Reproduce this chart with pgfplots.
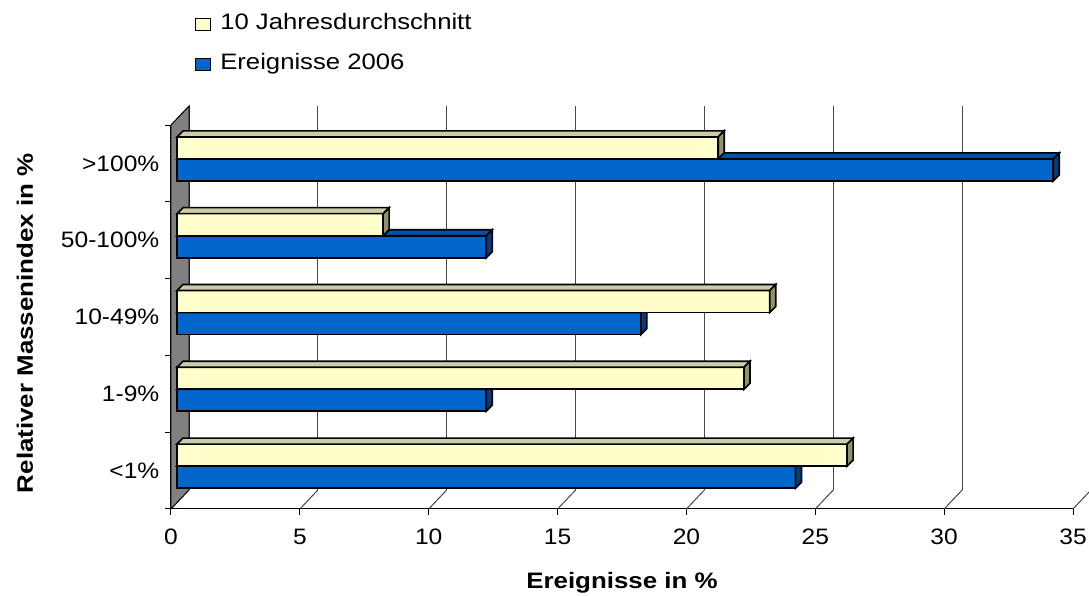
\documentclass[border=0pt]{standalone}
\usepackage{pgfplots}
\pgfplotsset{compat=1.18}
\usepackage{pgfplotstable}
\usepackage{fontspec}
\setmainfont{Liberation Sans}[FakeStretch=1.1, BoldFeatures={FakeStretch=1.16}]
\newfontfamily\legfont{Liberation Sans}[FakeStretch=1.15]

\definecolor{creamfront}{RGB}{255,255,204}
\definecolor{creamtop}{RGB}{204,204,168}
\definecolor{creamside}{RGB}{145,145,112}
\definecolor{bluefront}{RGB}{0,102,204}
\definecolor{bluetop}{RGB}{0,82,164}
\definecolor{blueside}{RGB}{0,62,124}
\definecolor{wallgray}{RGB}{128,128,128}
\definecolor{gridgray}{RGB}{70,70,70}

% Share of events per class of the relative mass index (in %)
\pgfplotstableread{
c  avg  y2006
0  26   24
1  22   12
2  23   18
3  8    12
4  21   34
}\datatable

% One x unit of the plot box is 676.5pt/35; a bar is 16.5pt high and
% 4.5pt deep.  The marks below sit at the right end of a bar's front face.
\pgfdeclareplotmark{bartop}{%
  \pgfmathsetlengthmacro\barlen{\barval*19.328571pt}%
  \pgfpathmoveto{\pgfpoint{-\barlen}{8.25pt}}%
  \pgfpathlineto{\pgfpoint{0pt}{8.25pt}}%
  \pgfpathlineto{\pgfpoint{4.5pt}{12.75pt}}%
  \pgfpathlineto{\pgfpoint{-\barlen+4.5pt}{12.75pt}}%
  \pgfpathclose
  \pgfusepathqfillstroke
}
\pgfdeclareplotmark{barside}{%
  \pgfpathmoveto{\pgfpoint{0pt}{-8.25pt}}%
  \pgfpathlineto{\pgfpoint{0pt}{8.25pt}}%
  \pgfpathlineto{\pgfpoint{4.5pt}{12.75pt}}%
  \pgfpathlineto{\pgfpoint{4.5pt}{-3.75pt}}%
  \pgfpathclose
  \pgfusepathqfillstroke
}

\pgfplotsset{
  boxaxis/.style={
    scale only axis, width=676.5pt, height=288pt,
    xmin=0, xmax=35, ymin=-0.5, ymax=4.5, anchor=south west,
  },
  legsq/.style={
    legend image code/.code={%
      \draw[##1, line width=0.75pt] (0pt,-1pt) rectangle (11.25pt,8.5pt);}
  },
  barstyle/.style={xbar, legsq, bar width=16.5pt, draw=black, line width=1.2pt},
}

\begin{document}
\fontsize{16.75pt}{20pt}\selectfont
\begin{tikzpicture}
\path[use as bounding box] (0,0) rectangle (816.75pt,447pt);
\clip (0,0) rectangle (816.75pt,447pt);

% back plane: vertical grid lines
\begin{axis}[boxaxis, at={(141.75pt,79.5pt)},
  axis line style={draw=none}, xtick={0,5,...,35}, ytick=\empty,
  xticklabels={}, major tick length=0pt, xmajorgrids,
  grid style={gridgray, line width=0.75pt}]
\end{axis}

% front plane: floor line, side wall, ticks and labels
\begin{axis}[boxaxis, at={(128.25pt,65.25pt)}, clip=false,
  axis lines*=left, axis line style={line width=0.75pt},
  tick align=outside, major tick length=4.5pt,
  tick style={black, line width=0.75pt},
  xtick={0,5,...,35},
  xticklabel style={yshift=-4.5pt, /pgf/number format/assume math mode=true},
  ytick={-0.5,0.5,...,4.5}, yticklabels={},
  extra y ticks={0,1,2,3,4},
  extra y tick labels={{<1\%},{1-9\%},{10-49\%},{50-100\%},{>100\%}},
  extra y tick style={major tick length=0pt, yticklabel style={xshift=-3pt}},
  xlabel={\textbf{Ereignisse in \%}},
  ylabel={\textbf{Relativer Massenindex in \%}},
  every axis x label/.style={at={(axis description cs:0.5,-0.208)}, anchor=base},
  every axis y label/.style={at={(axis description cs:-0.153,0.484)}, anchor=base, rotate=90},
]
\draw[fill=wallgray, line width=0.75pt] (axis cs:0,-0.5) -- (axis cs:0,4.5)
  -- ([shift={(13.5pt,14.25pt)}]axis cs:0,4.5)
  -- ([shift={(13.5pt,14.25pt)}]axis cs:0,-0.5) -- cycle;
\pgfplotsinvokeforeach{5,10,...,35}{%
  \draw[gridgray, line width=0.75pt] (axis cs:#1,-0.5) -- ++(13.5pt,14.25pt);}
\end{axis}

% lower bar of each class: Ereignisse 2006
\begin{axis}[boxaxis, at={(132.75pt,69.75pt)}, hide axis, clip=false]
\addplot[barstyle, bar shift=-9.375pt, fill=bluefront]
  table[x=y2006, y=c] {\datatable};
\addplot[only marks, mark=bartop,
  mark options={fill=bluetop, draw=black, line width=1.2pt},
  visualization depends on={\thisrow{y2006} \as \barval}]
  table[x=y2006, y expr=\thisrow{c}-0.16276] {\datatable};
\addplot[only marks, mark=barside,
  mark options={fill=blueside, draw=black, line width=1.2pt}]
  table[x=y2006, y expr=\thisrow{c}-0.16276] {\datatable};
\end{axis}

% upper bar of each class: 10 Jahresdurchschnitt, plus the legend
\begin{axis}[boxaxis, at={(132.75pt,69.75pt)}, hide axis, clip=false,
  legend style={at={(axis description cs:0.02,1.276)}, anchor=north west,
    draw=none, fill=none, inner sep=0pt,
    font={\fontsize{16.75pt}{20pt}\legfont},
    row sep={30pt,between origins}, column sep=6.75pt,
    cells={anchor=base west}, nodes={inner sep=0pt}},
]
\addplot[barstyle, bar shift=7.125pt, fill=creamfront]
  table[x=avg, y=c] {\datatable};
\addlegendentry{10 Jahresdurchschnitt}
\addplot[only marks, forget plot, mark=bartop,
  mark options={fill=creamtop, draw=black, line width=1.2pt},
  visualization depends on={\thisrow{avg} \as \barval}]
  table[x=avg, y expr=\thisrow{c}+0.12370] {\datatable};
\addplot[only marks, forget plot, mark=barside,
  mark options={fill=creamside, draw=black, line width=1.2pt}]
  table[x=avg, y expr=\thisrow{c}+0.12370] {\datatable};
\addlegendimage{barstyle, fill=bluefront}
\addlegendentry{Ereignisse 2006}
\end{axis}
\end{tikzpicture}
\end{document}
